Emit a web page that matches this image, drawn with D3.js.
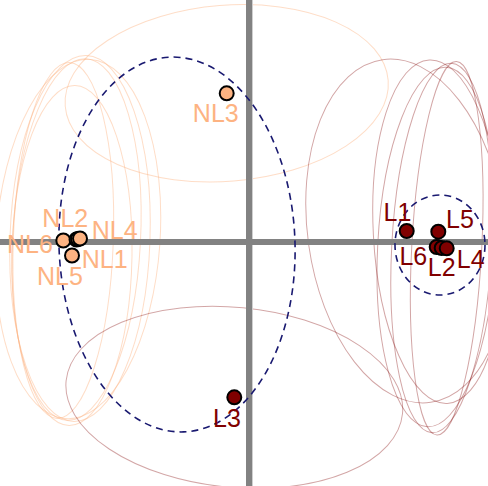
<!DOCTYPE html>
<html><head><meta charset="utf-8">
<script src="https://cdn.jsdelivr.net/npm/d3@7"></script>
<style>html,body{margin:0;padding:0;background:#fff;}svg{display:block;}</style>
</head><body>
<script>
// ---- data (biplot coordinates) ----
const names  = ["NL1","NL2","NL3","NL4","NL5","NL6","L1","L2","L3","L4","L5","L6"];
const groups = ["NL","NL","NL","NL","NL","NL","L","L","L","L","L","L"];
const xs     = [-1.71,-1.725,-0.223,-1.69,-1.77,-1.857, 1.577,1.927,-0.147,1.977,1.893,1.877];
const ys     = [0.03,0.025,1.487,0.035,-0.135,0.015, 0.11,-0.06,-1.553,-0.063,0.103,-0.05];
// per-sample uncertainty ellipses (semi-axes, rotation in degrees)
const ellA   = [0.82,0.64,1.62,0.70,0.60,0.50, 0.99,0.50,1.69,0.35,0.65,0.59];
const ellB   = [1.80,1.81,0.88,1.83,1.70,1.78, 1.73,1.85,0.90,1.87,1.72,1.80];
const ellRot = [4,3,-4.6,2,1,2, -8,3,5.6,3,-3,3];
// group ellipses
const grpNames = ["NL","L"];
const grpCx    = [-0.72, 1.91];
const grpCy    = [-0.025,-0.03];
const grpA     = [1.18, 0.45];
const grpB     = [1.875,0.50];
const grpRot   = [-2, 0];

// ---- layout ----
const W = 488, H = 486;
const color = {NL:"#FDB382", L:"#800000"};
const labelOffset = {
  NL1:[26.7,28.8], NL2:[-11.2,-13], NL3:[-10.9,28.9], NL4:[34.7,0.3],
  NL5:[-12,29], NL6:[-33.3,12],
  L1:[-9.2,-10.5], L2:[0,27.5], L3:[-7.3,29.9], L4:[24,19.2], L5:[21.7,-3.9], L6:[-23.4,17.5]
};

const x = d3.scaleLinear().domain([-2.49, 2.39]).range([0, W]);
const y = d3.scaleLinear().domain([2.42, -2.44]).range([0, H]);
const kx = Math.abs(x(1) - x(0)), ky = Math.abs(y(1) - y(0));

const svg = d3.select("body").append("svg").attr("width", W).attr("height", H)
  .style("font-family", "'Liberation Sans', Arial, sans-serif");

const samples = names.map((n,i)=>({name:n, group:groups[i], x:xs[i], y:ys[i],
  a:ellA[i], b:ellB[i], rot:ellRot[i]}));

// thin sample ellipses
svg.append("g").selectAll("ellipse").data(samples).join("ellipse")
  .attr("transform", d => `translate(${x(d.x)},${y(d.y)}) rotate(${d.rot})`)
  .attr("rx", d => d.a * kx).attr("ry", d => d.b * ky)
  .attr("fill", "none")
  .attr("stroke", d => color[d.group])
  .attr("stroke-opacity", d => d.group === "NL" ? 0.45 : 0.35)
  .attr("stroke-width", 1);

// axes lines
svg.append("line").attr("x1", x(0)+3.5).attr("x2", x(0)+3.5).attr("y1", 0).attr("y2", H)
  .attr("stroke", "#cfcfcf").attr("stroke-width", 1);
svg.append("line").attr("x1", x(0)).attr("x2", x(0)).attr("y1", 0).attr("y2", H)
  .attr("stroke", "#828282").attr("stroke-width", 6);
svg.append("line").attr("x1", 0).attr("x2", W).attr("y1", y(0)).attr("y2", y(0))
  .attr("stroke", "#828282").attr("stroke-width", 6);

// group dashed ellipses
const grps = grpNames.map((g,i)=>({g, cx:grpCx[i], cy:grpCy[i], a:grpA[i], b:grpB[i], rot:grpRot[i]}));
svg.append("g").selectAll("ellipse").data(grps).join("ellipse")
  .attr("transform", d => `translate(${x(d.cx)},${y(d.cy)}) rotate(${d.rot})`)
  .attr("rx", d => d.a * kx).attr("ry", d => d.b * ky)
  .attr("fill", "none").attr("stroke", "#191970")
  .attr("stroke-width", 1.6).attr("stroke-dasharray", "7,5");

// points
const ordered = samples.slice().sort((p,q)=>p.x-q.x);
svg.append("g").selectAll("circle").data(ordered).join("circle")
  .attr("cx", d => x(d.x)).attr("cy", d => y(d.y)).attr("r", 7)
  .attr("fill", d => color[d.group]).attr("stroke", "#000").attr("stroke-width", 2);

// labels
svg.append("g").selectAll("text").data(samples).join("text")
  .attr("x", d => x(d.x) + labelOffset[d.name][0])
  .attr("y", d => y(d.y) + labelOffset[d.name][1])
  .attr("text-anchor", "middle")
  .attr("font-size", 25)
  .attr("fill", d => color[d.group])
  .text(d => d.name);
</script>
</body></html>
